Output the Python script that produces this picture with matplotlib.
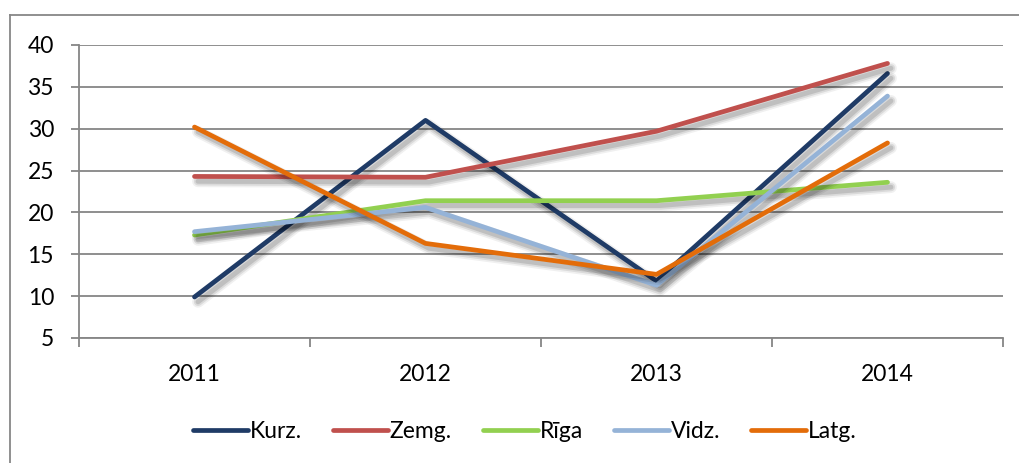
import matplotlib
matplotlib.use("Agg")
import matplotlib.pyplot as plt
import matplotlib.patheffects as pe
from matplotlib.lines import Line2D

years = ["2011", "2012", "2013", "2014"]
kurz = [9.9, 31.0, 11.8, 36.6]
zemg = [24.3, 24.2, 29.7, 37.8]
riga = [17.3, 21.4, 21.4, 23.6]
vidz = [17.7, 20.6, 11.3, 33.9]
latg = [30.2, 16.3, 12.6, 28.3]
series_names = ["Kurz.", "Zemg.", "Rīga", "Vidz.", "Latg."]
series_values = [kurz, zemg, riga, vidz, latg]
colors = ["#1F3B66", "#C0504D", "#92D050", "#95B3D7", "#E36C09"]
y_ticks = [5, 10, 15, 20, 25, 30, 35, 40]

plt.rcParams['font.family'] = ['Lato', 'DejaVu Sans']
FS = 16.5

W, H = 1019, 463
fig = plt.figure(figsize=(W / 100, H / 100), dpi=100)
ax = fig.add_axes([79 / W, 1 - 338 / H, (1003 - 79) / W, (338 - 45) / H])

grid_c = "#868686"
x = list(range(len(years)))
shadow = [
    pe.SimpleLineShadow(offset=(2.5, -3.5), shadow_color="#000000", alpha=0.06, linewidth=8.5),
    pe.SimpleLineShadow(offset=(2.5, -3.5), shadow_color="#000000", alpha=0.09, linewidth=6),
    pe.SimpleLineShadow(offset=(2.5, -3.5), shadow_color="#000000", alpha=0.12, linewidth=3.5),
    pe.Normal(),
]
for name, vals, c in zip(series_names, series_values, colors):
    ax.plot(x, vals, color=c, lw=3.4, solid_capstyle="round", solid_joinstyle="round",
            label=name, path_effects=shadow, zorder=3)

ax.set_xlim(-0.5, len(years) - 0.5)
ax.set_ylim(5, 40)
ax.set_yticks(y_ticks)
ax.set_xticks(x)
ax.set_xticklabels(years)
ax.set_xticks([i - 0.5 for i in range(len(years) + 1)], minor=True)

for s in ["top", "right"]:
    ax.spines[s].set_visible(False)
for s in ["left", "bottom"]:
    ax.spines[s].set_color(grid_c)
    ax.spines[s].set_linewidth(1.3)

ax.yaxis.grid(True, color=grid_c, lw=1.3, zorder=0)
ax.set_axisbelow(True)
ax.tick_params(axis="y", which="major", length=6, color=grid_c, width=1.3, pad=12, labelsize=FS)
ax.tick_params(axis="x", which="major", length=0, pad=19, labelsize=FS)
ax.tick_params(axis="x", which="minor", length=6.5, color=grid_c, width=1.3)

handles = [Line2D([0], [0], color=c, lw=3.4, solid_capstyle="round") for c in colors]
fig.legend(handles, series_names, loc="center", bbox_to_anchor=(525 / W, 1 - 432 / H),
           ncol=5, frameon=False, fontsize=FS, handlelength=2.4, handletextpad=0.08,
           columnspacing=1.35)

# outer chart border (left and top edges visible)
fig.add_artist(Line2D([10 / W, 10 / W], [0, 1 - 15 / H], transform=fig.transFigure, color="#878787", lw=1.3))
fig.add_artist(Line2D([10 / W, 1], [1 - 15 / H, 1 - 15 / H], transform=fig.transFigure, color="#878787", lw=1.3))

fig.savefig("out.png", dpi=100)
